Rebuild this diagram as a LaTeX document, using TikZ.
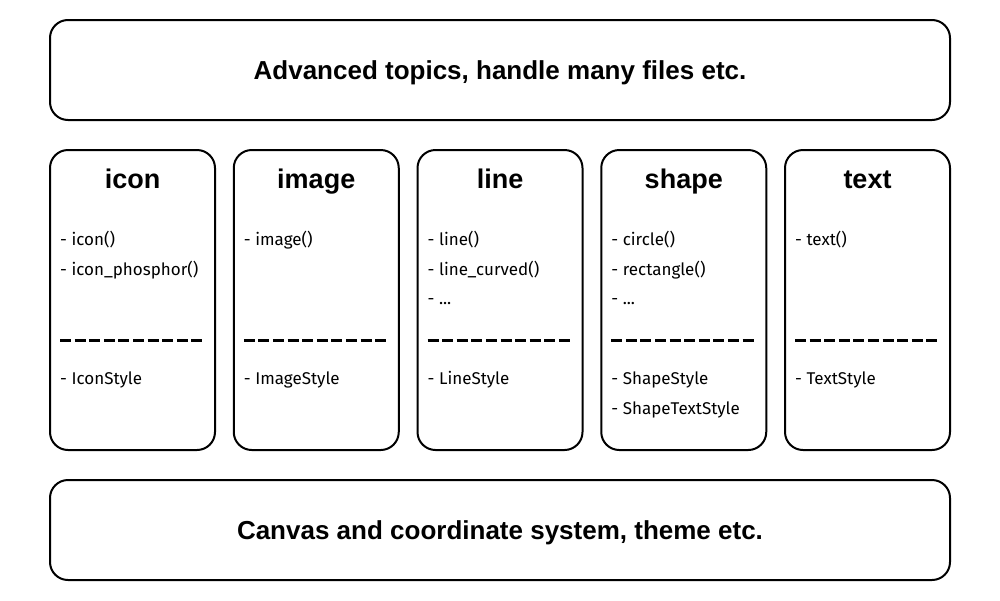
\documentclass[tikz,border=0pt]{standalone}
\usepackage{fontspec}
\newfontfamily\headfont{Liberation Sans}
\newfontfamily\itemfont{Fira Sans}
\tikzset{
    boxstyle/.style={draw, line width=2pt, rounded corners=18pt, inner sep=0pt},
    bandstyle/.style={anchor=base, inner sep=0pt, font=\headfont\bfseries\fontsize{26}{30}\selectfont},
    titlestyle/.style={anchor=base, inner sep=0pt, font=\headfont\bfseries\fontsize{27}{32}\selectfont},
    itemstyle/.style={anchor=base west, inner sep=0pt, font=\itemfont\fontsize{17}{20}\selectfont},
    sepstyle/.style={line width=3pt, dash pattern=on 11pt off 3.6pt}
}
\begin{document}
\begin{tikzpicture}[x=1pt, y=-1pt]

        \useasboundingbox (0,0) rectangle (1000,600);

        \def\colmid{82.5}

        % ================= TOP BAND =================
        \node[boxstyle, minimum width=900pt, minimum height=100pt] (advanced) at (500,70) {};
        \node[bandstyle] (advancedtitle) at (500,79) {Advanced topics, handle many files etc.};

        % ================= COLUMN 1: icon =================
        \begin{scope}[xshift=50pt]
            \node[boxstyle, minimum width=165pt, minimum height=300pt] (icon) at (\colmid,300) {};
            \node[titlestyle] (icontitle) at (\colmid,188) {icon};
            \node[itemstyle] (iconA) at (10,245) {- icon()};
            \node[itemstyle] (iconB) at (10,275) {- icon\_phosphor()};
            \draw[sepstyle] (10,340) -- (155,340);
            \node[itemstyle] (iconstyle) at (10,384) {- IconStyle};
        \end{scope}

        % ================= COLUMN 2: image =================
        \begin{scope}[xshift=233.75pt]
            \node[boxstyle, minimum width=165pt, minimum height=300pt] (image) at (\colmid,300) {};
            \node[titlestyle] (imagetitle) at (\colmid,188) {image};
            \node[itemstyle] (imageA) at (10,245) {- image()};
            \draw[sepstyle] (10,340) -- (155,340);
            \node[itemstyle] (imagestyle) at (10,384) {- ImageStyle};
        \end{scope}

        % ================= COLUMN 3: line =================
        \begin{scope}[xshift=417.5pt]
            \node[boxstyle, minimum width=165pt, minimum height=300pt] (line) at (\colmid,300) {};
            \node[titlestyle] (linetitle) at (\colmid,188) {line};
            \node[itemstyle] (lineA) at (10,245) {- line()};
            \node[itemstyle] (lineB) at (10,275) {- line\_curved()};
            \node[itemstyle] (lineC) at (10,304) {- ...};
            \draw[sepstyle] (10,340) -- (155,340);
            \node[itemstyle] (linestyle) at (10,384) {- LineStyle};
        \end{scope}

        % ================= COLUMN 4: shape =================
        \begin{scope}[xshift=601.25pt]
            \node[boxstyle, minimum width=165pt, minimum height=300pt] (shape) at (\colmid,300) {};
            \node[titlestyle] (shapetitle) at (\colmid,188) {shape};
            \node[itemstyle] (shapeA) at (10,245) {- circle()};
            \node[itemstyle] (shapeB) at (10,275) {- rectangle()};
            \node[itemstyle] (shapeC) at (10,304) {- ...};
            \draw[sepstyle] (10,340) -- (155,340);
            \node[itemstyle] (shapestyle) at (10,384) {- ShapeStyle};
            \node[itemstyle] (shapetextstyle) at (10,414) {- ShapeTextStyle};
        \end{scope}

        % ================= COLUMN 5: text =================
        \begin{scope}[xshift=785pt]
            \node[boxstyle, minimum width=165pt, minimum height=300pt] (text) at (\colmid,300) {};
            \node[titlestyle] (texttitle) at (\colmid,188) {text};
            \node[itemstyle] (textA) at (10,245) {- text()};
            \draw[sepstyle] (10,340) -- (155,340);
            \node[itemstyle] (textstyle) at (10,384) {- TextStyle};
        \end{scope}

        % ================= BOTTOM BAND =================
        \node[boxstyle, minimum width=900pt, minimum height=100pt] (canvas) at (500,530) {};
        \node[bandstyle] (canvastitle) at (500,539) {Canvas and coordinate system, theme etc.};

\end{tikzpicture}
\end{document}
